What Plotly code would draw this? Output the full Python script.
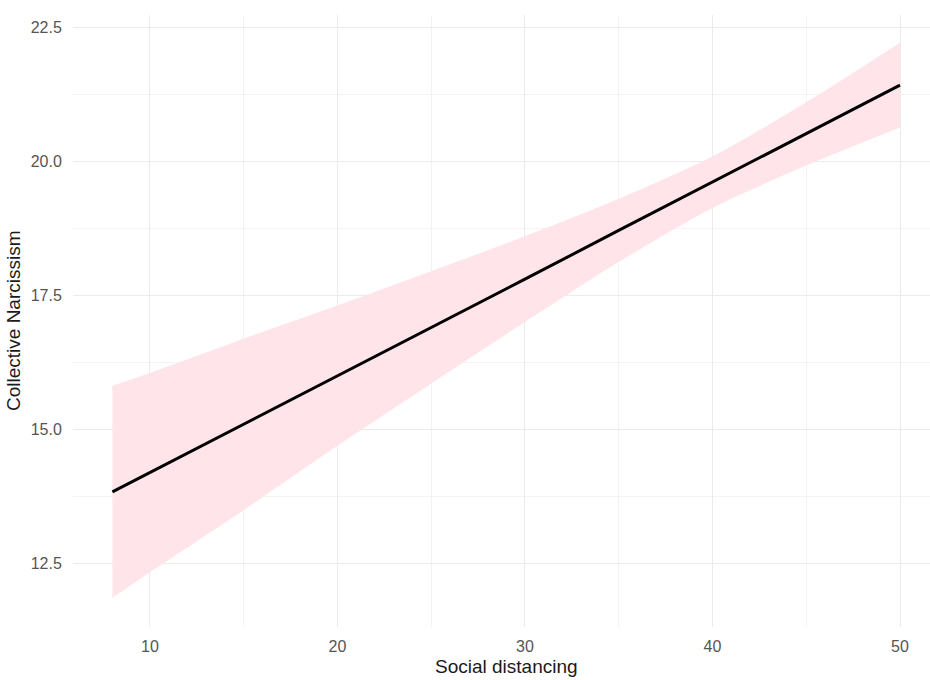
import plotly.graph_objects as go

# Fitted regression of collective narcissism on social distancing
social_distancing = [8, 10, 15, 20, 25, 30, 35, 40, 45, 50]
fit = [13.84, 14.20, 15.10, 16.01, 16.91, 17.81, 18.72, 19.62, 20.52, 21.43]
ci_upper = [15.82, 16.06, 16.70, 17.32, 17.96, 18.61, 19.31, 20.10, 21.11, 22.22]
ci_lower = [11.86, 12.34, 13.50, 14.70, 15.86, 17.01, 18.13, 19.14, 19.93, 20.64]

x_ticks = [10, 20, 30, 40, 50]
y_ticks = [12.5, 15.0, 17.5, 20.0, 22.5]

band_fill = "#FFE4E9"
font = "Liberation Sans, Arial, sans-serif"

fig = go.Figure()

# confidence band
fig.add_trace(go.Scatter(
    x=social_distancing, y=ci_lower, mode="lines",
    line=dict(width=0, color=band_fill, shape="spline", smoothing=0.8),
    hoverinfo="skip", showlegend=False,
))
fig.add_trace(go.Scatter(
    x=social_distancing, y=ci_upper, mode="lines", fill="tonexty",
    fillcolor=band_fill,
    line=dict(width=0, color=band_fill, shape="spline", smoothing=0.8),
    hoverinfo="skip", showlegend=False,
))

# fitted line
fig.add_trace(go.Scatter(
    x=social_distancing, y=fit, mode="lines",
    line=dict(color="black", width=3), showlegend=False,
))

fig.update_layout(
    width=930, height=680,
    margin=dict(l=73, r=0, t=15, b=53),
    paper_bgcolor="white", plot_bgcolor="white",
    font=dict(family=font, color="#4D4D4D", size=16),
    xaxis=dict(
        range=[5.9, 51.6], tickvals=x_ticks,
        ticktext=[str(v) for v in x_ticks],
        showgrid=True, gridcolor="#EBEBEB", gridwidth=1,
        minor=dict(dtick=5, tick0=0, showgrid=True, gridcolor="#F3F3F3", gridwidth=1),
        zeroline=False, showline=False,
        ticks="outside", ticklen=5, tickcolor="rgba(0,0,0,0)",
        tickfont=dict(size=16, color="#555555"),
    ),
    yaxis=dict(
        range=[11.32, 22.74], tickvals=y_ticks,
        ticktext=[f"{v:.1f}" for v in y_ticks],
        showgrid=True, gridcolor="#EBEBEB", gridwidth=1,
        minor=dict(dtick=1.25, tick0=0, showgrid=True, gridcolor="#F3F3F3", gridwidth=1),
        zeroline=False, showline=False,
        ticks="outside", ticklen=7, tickcolor="rgba(0,0,0,0)",
        tickfont=dict(size=16, color="#555555"),
    ),
    annotations=[
        dict(text="Social distancing", xref="paper", yref="paper",
             x=0.5, y=0, xanchor="center", yanchor="middle",
             xshift=5, yshift=-39, showarrow=False,
             font=dict(family=font, size=19, color="#1A1A1A")),
        dict(text="Collective Narcissism", xref="paper", yref="paper",
             x=0, y=0.5, xanchor="center", yanchor="middle",
             xshift=-60, textangle=-90, showarrow=False,
             font=dict(family=font, size=19, color="#1A1A1A")),
    ],
)

fig.write_html("out.html")
